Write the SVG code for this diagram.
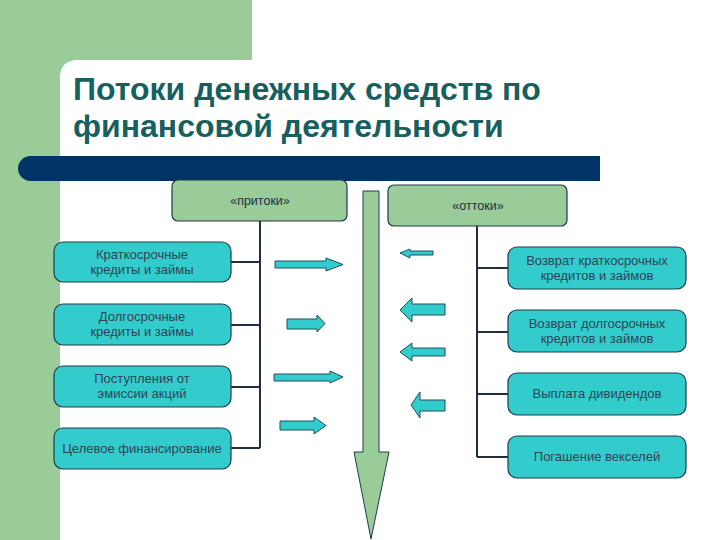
<svg xmlns="http://www.w3.org/2000/svg" width="720" height="540" viewBox="0 0 720 540">
<style>
.box{fill:#33cccc;stroke:#1f3b4d;stroke-width:1.2}
.hdr{fill:#99cc99;stroke:#1f3b4d;stroke-width:1.2}
.arr{fill:#33cccc;stroke:#1f4e5f;stroke-width:1}
.t{font-family:"Liberation Sans",Arial,sans-serif;font-size:13px;fill:#2e4454;text-anchor:middle}
.h{font-family:"Liberation Sans",Arial,sans-serif;font-size:12.5px;fill:#1f2f3f;text-anchor:middle}
.title{font-family:"Liberation Sans",Arial,sans-serif;font-size:32px;font-weight:bold;fill:#176060}
.ln{stroke:#1f2f3f;stroke-width:2;fill:none}
</style>
<rect x="0" y="0" width="720" height="540" fill="#99cc99"/>
<path d="M60,78 Q60,60 78,60 L252,60 L252,0 L720,0 L720,540 L60,540 Z" fill="#ffffff"/>
<path d="M30.5,156 H600 V181 H30.5 A12.5,12.5 0 0 1 30.5,156 Z" fill="#003366"/>
<g id="title">
<text class="title" x="73" y="100">Потоки денежных средств по</text>
<text class="title" x="73" y="137">финансовой деятельности</text>
</g>
<g id="connectors">
<path class="ln" d="M260,221 V448"/>
<path class="ln" d="M231,262 H260 M231,325 H260 M231,387 H260 M231,448 H260"/>
<path class="ln" d="M477,226 V457"/>
<path class="ln" d="M477,268 H508 M477,332 H508 M477,394 H508 M477,457 H508"/>
</g>
<g id="bigArrow">
<path d="M363,191 H379 V452 H389 L371,539 L354,452 H363 Z" fill="#99cc99" stroke="#1f3b4d" stroke-width="1"/>
</g>
<g id="inflowArrows">
<path class="arr" d="M275,261 H326 V258 L343,264.5 L326,271 V268 H275 Z"/>
<path class="arr" d="M287,319 H317 V315 L325,323.5 L317,332 V329 H287 Z"/>
<path class="arr" d="M274,374 H330 V371 L343,377 L330,383 V381 H274 Z"/>
<path class="arr" d="M280,421 H314 V417 L326,425.5 L314,434 V430 H280 Z"/>
</g>
<g id="outflowArrows">
<path class="arr" d="M433,251 H410 V249 L400,253 L410,258 V255 H433 Z"/>
<path class="arr" d="M445,304 H412 V298 L400,310 L412,322 V315 H445 Z"/>
<path class="arr" d="M445,348 H412 V343 L400,352 L412,361 V356 H445 Z"/>
<path class="arr" d="M445,400 H420 V392 L411,405 L420,418 V411 H445 Z"/>
</g>
<g id="inflows">
<rect class="hdr" x="172" y="180" width="175" height="41" rx="6"/>
<text class="h" x="260" y="205">«притоки»</text>
</g>
<g id="outflows">
<rect class="hdr" x="388" y="185" width="179" height="41" rx="6"/>
<text class="h" x="478" y="210">«оттоки»</text>
</g>
<g id="in1">
<rect class="box" x="54" y="242" width="177" height="40" rx="9"/>
<text class="t" x="142" y="259">Краткосрочные</text>
<text class="t" x="142" y="274">кредиты и займы</text>
</g>
<g id="in2">
<rect class="box" x="54" y="304" width="177" height="41" rx="9"/>
<text class="t" x="142" y="321">Долгосрочные</text>
<text class="t" x="142" y="336">кредиты и займы</text>
</g>
<g id="in3">
<rect class="box" x="54" y="366" width="177" height="41" rx="9"/>
<text class="t" x="142" y="383">Поступления от</text>
<text class="t" x="142" y="398">эмиссии акций</text>
</g>
<g id="in4">
<rect class="box" x="54" y="428" width="177" height="41" rx="9"/>
<text class="t" x="142" y="453">Целевое финансирование</text>
</g>
<g id="out1">
<rect class="box" x="508" y="247" width="178" height="42" rx="9"/>
<text class="t" x="597" y="265">Возврат краткосрочных</text>
<text class="t" x="597" y="280">кредитов и займов</text>
</g>
<g id="out2">
<rect class="box" x="508" y="310" width="178" height="42" rx="9"/>
<text class="t" x="597" y="328">Возврат долгосрочных</text>
<text class="t" x="597" y="343">кредитов и займов</text>
</g>
<g id="out3">
<rect class="box" x="508" y="373" width="178" height="42" rx="9"/>
<text class="t" x="597" y="398">Выплата дивидендов</text>
</g>
<g id="out4">
<rect class="box" x="508" y="436" width="178" height="42" rx="9"/>
<text class="t" x="597" y="461">Погашение векселей</text>
</g>
</svg>
